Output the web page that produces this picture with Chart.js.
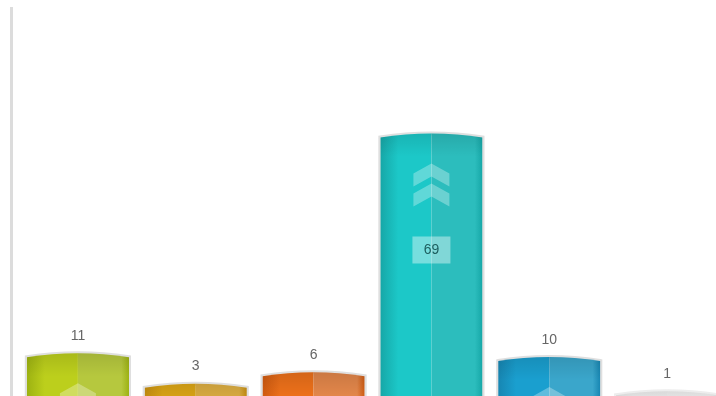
<!DOCTYPE html>
<html><head><meta charset="utf-8">
<script src="https://cdn.jsdelivr.net/npm/chart.js@4/dist/chart.umd.min.js"></script>
<style>
html,body{margin:0;padding:0;background:#fff;overflow:hidden;}
#wrap{width:716px;height:396px;overflow:hidden;position:relative;}
canvas{display:block;}
</style></head><body>
<div id="wrap"><canvas id="c" width="726" height="396"></canvas></div>
<script>
const categories = ["A","B","C","D","E","F"];
const values = [11, 3, 6, 69, 10, 1];
const leftColors  = ["#bccf1c","#dfa816","#ec701a","#1cc8c8","#1a9fcf","#f3f3f3"];
const rightColors = ["#b6c83e","#dfb043","#e2864a","#2cbdbd","#3aa6cb","#f5f5f5"];
const edgeColors  = ["#9db212","#c99010","#cf5a10","#16a7a7","#1786b2","#ececec"];

const barPainter = {
  id:'barPainter',
  beforeDraw(chart){
    const ctx=chart.ctx;
    ctx.save();
    ctx.strokeStyle='#dcdcdc';ctx.lineWidth=3;
    ctx.beginPath();ctx.moveTo(11.5,7);ctx.lineTo(11.5,396);ctx.stroke();
    ctx.restore();
  },
  afterDatasetsDraw(chart){
    const ctx=chart.ctx, meta=chart.getDatasetMeta(0), area=chart.chartArea;
    ctx.save();
    ctx.beginPath();ctx.rect(0,0,chart.width,area.bottom);ctx.clip();
    meta.data.forEach((el,i)=>{
      const w=el.width, x0=el.x-w/2, x1=el.x+w/2, cx=el.x, top=el.y, base=el.base+10;
      const path=()=>{ctx.beginPath();ctx.moveTo(x0,base);ctx.lineTo(x0,top+3);
        ctx.quadraticCurveTo(cx,top-5,x1,top+3);ctx.lineTo(x1,base);ctx.closePath();};
      path();ctx.strokeStyle=i===5?'rgba(230,230,230,0.7)':'rgba(215,215,215,0.8)';ctx.lineWidth=4;ctx.stroke();
      ctx.save();path();ctx.clip();
      let g=ctx.createLinearGradient(x0,0,cx,0);
      g.addColorStop(0,edgeColors[i]);g.addColorStop(0.35,leftColors[i]);g.addColorStop(1,leftColors[i]);
      ctx.fillStyle=g;ctx.fillRect(x0,top-6,cx-x0,base-top+6);
      let g2=ctx.createLinearGradient(cx,0,x1,0);
      g2.addColorStop(0,rightColors[i]);g2.addColorStop(0.85,rightColors[i]);g2.addColorStop(1,edgeColors[i]);
      ctx.fillStyle=g2;ctx.fillRect(cx,top-6,x1-cx,base-top+6);
      let g3=ctx.createLinearGradient(0,top-5,0,top+22);
      g3.addColorStop(0,'rgba(0,0,0,0.12)');g3.addColorStop(1,'rgba(0,0,0,0)');
      ctx.fillStyle=g3;ctx.fillRect(x0,top-6,w,30);
      // chevrons
      ctx.fillStyle='rgba(255,255,255,0.3)';
      [0,20].forEach(off=>{
        const y=top+29+off;
        ctx.beginPath();ctx.moveTo(cx,y);ctx.lineTo(cx+18,y+10);ctx.lineTo(cx+18,y+23);
        ctx.lineTo(cx,y+13);ctx.lineTo(cx-18,y+23);ctx.lineTo(cx-18,y+10);ctx.closePath();ctx.fill();
      });
      ctx.restore();
      ctx.font='14px "Liberation Sans", Arial, sans-serif';
      ctx.textAlign='center';ctx.textBaseline='middle';
      const v=values[i];
      if(el.base-top>150){
        const by=top+115;
        ctx.fillStyle='rgba(255,255,255,0.4)';ctx.fillRect(cx-19,by-13,38,27);
        ctx.fillStyle='#1d5e5e';ctx.fillText(String(v),cx,by+1);
      } else {
        ctx.fillStyle='#666';ctx.fillText(String(v),cx,top-18);
      }
    });
    ctx.restore();
  }
};

new Chart(document.getElementById('c'),{
  type:'bar',
  data:{labels:categories,datasets:[{data:values,backgroundColor:'rgba(0,0,0,0)',borderWidth:0,
    categoryPercentage:1,barPercentage:0.867}]},
  options:{
    responsive:false,animation:false,devicePixelRatio:1,
    layout:{padding:{left:19,top:17,right:0,bottom:0}},
    plugins:{legend:{display:false},tooltip:{enabled:false}},
    scales:{
      x:{display:false},
      y:{display:false,min:0,max:100}
    }
  },
  plugins:[barPainter]
});
</script>
</body></html>
